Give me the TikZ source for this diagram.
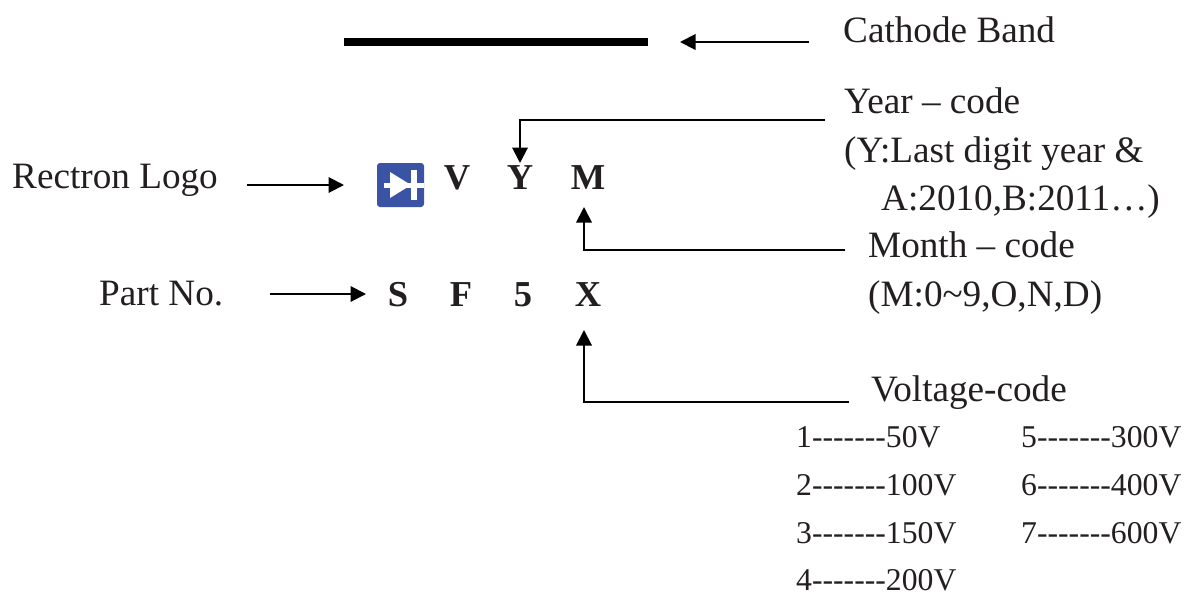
\documentclass[tikz,border=0pt]{standalone}
\usepackage{fontspec}
\setmainfont{Liberation Serif}
\usetikzlibrary{arrows.meta}
\definecolor{logoblue}{HTML}{3A53A4}
\definecolor{ink}{HTML}{231F20}
\newcommand{\dashrun}{-{}-{}-{}-{}-{}-{}-}
\tikzset{
 lbl/.style={inner sep=0pt,anchor=base west,text=ink,font=\fontsize{37.2pt}{40pt}\selectfont},
 code/.style={inner sep=0pt,anchor=base,text=ink,font=\fontsize{36.5pt}{40pt}\selectfont\bfseries},
 small/.style={inner sep=0pt,anchor=base west,text=ink,font=\fontsize{31.7pt}{34pt}\selectfont},
 arr/.style={line width=2pt,-{Triangle[length=15.5pt,width=15.5pt]}},
}
\begin{document}
\begin{tikzpicture}[x=1pt,y=-1pt]
\useasboundingbox (0,0) rectangle (1190,595);
\fill[white] (0,0) rectangle (1190,595);
\coordinate (b1) at (344,42); \coordinate (b2) at (648,42);
\draw[line width=8pt] (b1) -- (b2);
\coordinate (c1) at (809,42); \coordinate (c2) at (680,42);
\draw[arr] (c1) -- (c2);
\node[lbl] (cath) at (843,42) {Cathode Band};
\node[lbl] (yr) at (844,113) {Year -- code};
\node[lbl] (yr2) at (844,162) {(Y:Last digit year \&};
\node[lbl] (yr3) at (881,210) {A:2010,B:2011\dots)};
\node[lbl] (mo) at (868,257) {Month -- code};
\node[lbl] (mo2) at (868,306) {(M:0\textasciitilde9,O,N,D)};
\node[lbl] (vc) at (871,401) {Voltage-code};
\node[lbl] (logo) at (12,188.5) {Rectron Logo};
\node[lbl] (part) at (99,305.5) {Part No.};
\node[code] (V) at (457,189) {V};
\node[code] (Y) at (520,189) {Y};
\node[code] (M) at (588,189) {M};
\node[code] (S) at (398,306) {S};
\node[code] (F) at (461,306) {F};
\node[code] (five) at (523,306) {5};
\node[code] (X) at (588,306) {X};
\fill[logoblue,rounded corners=3pt] (377,163) rectangle (424,207);
\fill[white] (390,172) -- (390,198) -- (411,185) -- cycle;
\fill[white] (411,170) rectangle (417,200);
\fill[white] (384,182.5) rectangle (424,187.5);
\coordinate (l1) at (247,185); \coordinate (l2) at (344,185);
\draw[arr] (l1) -- (l2);
\coordinate (p1) at (270,294); \coordinate (p2) at (366,294);
\draw[arr] (p1) -- (p2);
\coordinate (y1) at (825,119.5); \coordinate (y2) at (520,119.5); \coordinate (y3) at (520,163);
\draw[arr] (y1) -- (y2) -- (y3);
\coordinate (m1) at (845,250); \coordinate (m2) at (584,250); \coordinate (m3) at (584,207);
\draw[arr] (m1) -- (m2) -- (m3);
\coordinate (v1) at (849,402); \coordinate (v2) at (584,402); \coordinate (v3) at (584,330);
\draw[arr] (v1) -- (v2) -- (v3);
\node[small] at (796,447) {1\dashrun50V};
\node[small] at (796,495) {2\dashrun100V};
\node[small] at (796,543) {3\dashrun150V};
\node[small] at (796,590) {4\dashrun200V};
\node[small] at (1021,447) {5\dashrun300V};
\node[small] at (1021,495) {6\dashrun400V};
\node[small] at (1021,543) {7\dashrun600V};
\end{tikzpicture}
\end{document}
